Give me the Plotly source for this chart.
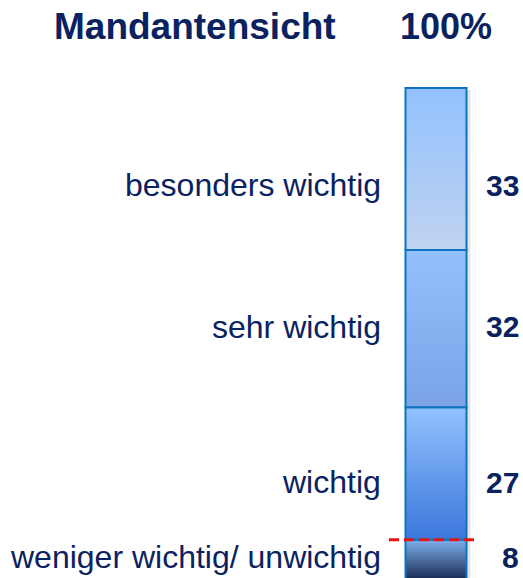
import plotly.graph_objects as go

# ---- data ----
categories = ["weniger wichtig/ unwichtig", "wichtig", "sehr wichtig", "besonders wichtig"]
values = [8, 27, 32, 33]
total_label = "100%"
title_label = "Mandantensicht"

# ---- styles ----
grad_bottom = ["#1B2D55", "#3C78DC", "#7BA3E6", "#C0D3F1"]
grad_top = ["#7DB0EE", "#92C1FD", "#92C1FD", "#92C1FD"]
label_yshift = [2, -9, 2, -16]
border = "#0B74BE"
navy = "#0A2260"
FONT = "Liberation Sans, Arial, sans-serif"

FIG_W, FIG_H = 523, 578
PX_PER_UNIT = 4.91
BOTTOM_PX = 579  # pixel row of value 0

BAR_X = 436
BAR_W = 61
x0, x1 = BAR_X - BAR_W / 2, BAR_X + BAR_W / 2

fig = go.Figure()

bases = []
acc = 0
for v in values:
    bases.append(acc)
    acc += v

# subtle shadow
fig.add_trace(go.Scatter(
    x=[x0 + 3, x1 + 4, x1 + 4, x0 + 3, x0 + 3],
    y=[0, 0, acc - 0.4, acc - 0.4, 0],
    mode="lines", line=dict(width=0), fill="toself",
    fillcolor="rgba(0,0,0,0.10)", hoverinfo="skip", showlegend=False))

for i, (cat, v, b) in enumerate(zip(categories, values, bases)):
    fig.add_trace(go.Scatter(
        x=[x0, x1, x1, x0, x0],
        y=[b, b, b + v, b + v, b],
        mode="lines",
        line=dict(color=border, width=2),
        fill="toself",
        fillgradient=dict(type="vertical",
                          colorscale=[[0, grad_bottom[i]], [1, grad_top[i]]]),
        name=cat, showlegend=False, hoverinfo="skip"))
    mid = b + v / 2
    fig.add_annotation(x=383, y=mid, text=cat, showarrow=False,
                       xanchor="right", yanchor="middle", yshift=label_yshift[i],
                       font=dict(family=FONT, size=32, color=navy))
    fig.add_annotation(x=521, y=mid, text=f"<b>{v}</b>", showarrow=False,
                       xanchor="right", yanchor="middle", yshift=label_yshift[i],
                       font=dict(family=FONT, size=30, color=navy))

# red dashed line at top of lowest segment
fig.add_shape(type="line", x0=389, x1=479, y0=values[0], y1=values[0],
              line=dict(color="#F01010", width=3, dash="10px,5px"))

# header texts
head_y = (BOTTOM_PX - 26) / PX_PER_UNIT
fig.add_annotation(x=195, y=head_y, text=f"<b>{title_label}</b>", showarrow=False,
                   xanchor="center", yanchor="middle",
                   font=dict(family=FONT, size=37, color=navy))
fig.add_annotation(x=446, y=head_y, text=f"<b>{total_label}</b>", showarrow=False,
                   xanchor="center", yanchor="middle",
                   font=dict(family=FONT, size=36, color=navy))

fig.update_xaxes(range=[0, FIG_W], visible=False, fixedrange=True)
fig.update_yaxes(range=[(BOTTOM_PX - FIG_H) / PX_PER_UNIT, BOTTOM_PX / PX_PER_UNIT],
                 visible=False, fixedrange=True)
fig.update_layout(width=FIG_W, height=FIG_H, autosize=False,
                  margin=dict(l=0, r=0, t=0, b=0),
                  paper_bgcolor="white", plot_bgcolor="white")

fig.write_html(
    "out.html",
    config={"displayModeBar": False},
    post_script="document.body.style.margin='0';document.body.style.overflow='hidden';",
)
